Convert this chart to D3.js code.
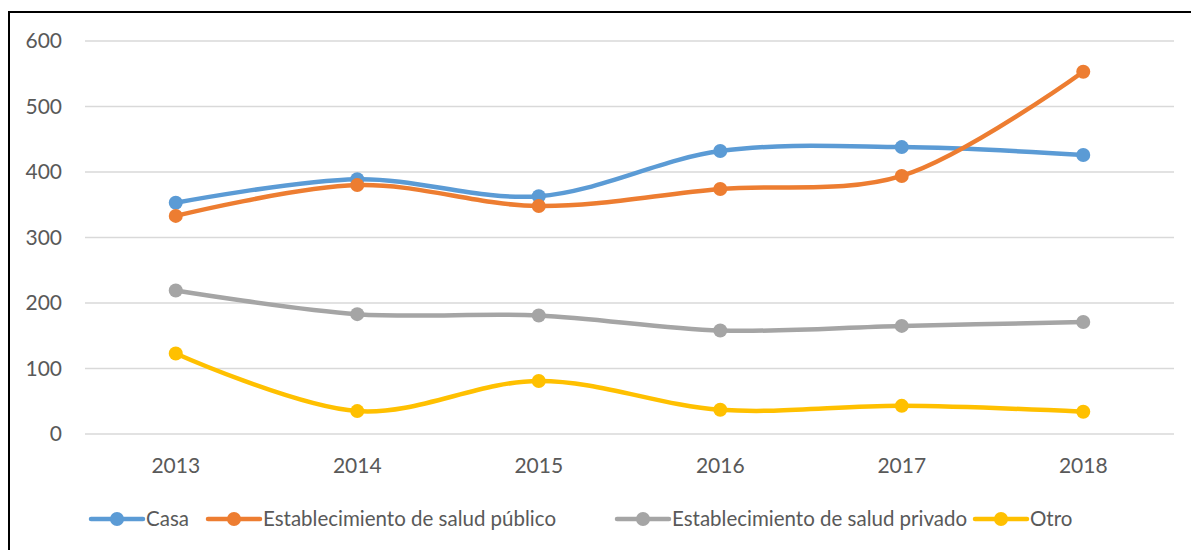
<!DOCTYPE html>
<html>
<head>
<meta charset="utf-8">
<script src="https://cdn.jsdelivr.net/npm/d3@7"></script>
<style>
  body { margin: 0; background: #fff; }
  svg { display: block; }
</style>
</head>
<body>
<div id="chart"></div>
<script>
// Data
const years = ['2013', '2014', '2015', '2016', '2017', '2018'];
const casa = [353, 389, 363, 432, 438, 426];
const publico = [333, 380, 348, 374, 394, 553];
const privado = [219, 183, 181, 158, 165, 171];
const otro = [123, 35, 81, 37, 43, 34];
const yTicks = [0, 100, 200, 300, 400, 500, 600];

const series = [
    { name: 'Casa', values: casa, color: '#5b9bd5' },
    { name: 'Establecimiento de salud público', values: publico, color: '#ed7d31' },
    { name: 'Establecimiento de salud privado', values: privado, color: '#a5a5a5' },
    { name: 'Otro', values: otro, color: '#ffc000' }
];

const width = 1191;
const height = 550;
const margin = { left: 85, right: 17, top: 41, bottom: 116 };

const svg = d3.select('#chart')
    .append('svg')
    .attr('width', width)
    .attr('height', height);

// Chart border
svg.append('rect')
    .attr('x', 9)
    .attr('y', 12)
    .attr('width', width + 10)
    .attr('height', height + 10)
    .attr('fill', 'none')
    .attr('stroke', '#000')
    .attr('stroke-width', 2);

const x = d3.scalePoint()
    .domain(years)
    .range([margin.left, width - margin.right])
    .padding(0.5);

const y = d3.scaleLinear()
    .domain([0, 600])
    .range([height - margin.bottom, margin.top]);

const font = "Lato, 'Open Sans', sans-serif";
const textColor = '#595959';

// Gridlines
svg.append('g')
    .selectAll('line')
    .data(yTicks)
    .join('line')
    .attr('x1', margin.left)
    .attr('x2', width - margin.right)
    .attr('y1', d => y(d))
    .attr('y2', d => y(d))
    .attr('stroke', '#d9d9d9')
    .attr('stroke-width', 1.5);

// Y labels
svg.append('g')
    .selectAll('text')
    .data(yTicks)
    .join('text')
    .attr('x', 62)
    .attr('y', d => y(d))
    .attr('dy', '0.35em')
    .attr('text-anchor', 'end')
    .attr('fill', textColor)
    .style('font-family', font)
    .style('font-size', '21px')
    .text(d => d);

// X labels
svg.append('g')
    .selectAll('text')
    .data(years)
    .join('text')
    .attr('x', d => x(d))
    .attr('y', 466)
    .attr('dy', '0.35em')
    .attr('text-anchor', 'middle')
    .attr('fill', textColor)
    .style('font-family', font)
    .style('font-size', '21px')
    .text(d => d);

const line = d3.line()
    .x((d, i) => x(years[i]))
    .y(d => y(d))
    .curve(d3.curveCatmullRom.alpha(0.5));

// Lines and markers
series.forEach(s => {
    const g = svg.append('g');
    g.append('path')
        .attr('d', line(s.values))
        .attr('fill', 'none')
        .attr('stroke', s.color)
        .attr('stroke-width', 4.5)
        .attr('stroke-linecap', 'round');
    g.selectAll('circle')
        .data(s.values)
        .join('circle')
        .attr('cx', (d, i) => x(years[i]))
        .attr('cy', d => y(d))
        .attr('r', 7)
        .attr('fill', s.color);
});

// Legend
const legendX = [91, 208, 617, 975];
const legend = svg.append('g');
series.forEach((s, i) => {
    const lg = legend.append('g').attr('transform', `translate(${legendX[i]},519)`);
    lg.append('line')
        .attr('x1', 0).attr('x2', 52)
        .attr('stroke', s.color)
        .attr('stroke-width', 4.5)
        .attr('stroke-linecap', 'round');
    lg.append('circle')
        .attr('cx', 26).attr('r', 7)
        .attr('fill', s.color);
    lg.append('text')
        .attr('x', 55)
        .attr('dy', '0.35em')
        .attr('fill', textColor)
        .style('font-family', font)
        .style('font-size', '20.5px')
        .text(s.name);
});
</script>
</body>
</html>
